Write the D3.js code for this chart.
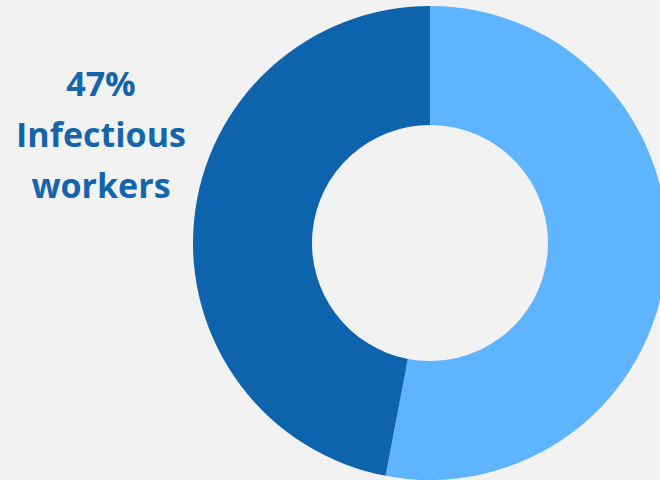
<!DOCTYPE html>
<html>
<head>
<meta charset="utf-8">
<script src="https://cdn.jsdelivr.net/npm/d3@7"></script>
<style>
  html, body { margin: 0; padding: 0; background: #f2f2f2; }
  svg { display: block; }
</style>
</head>
<body>
<svg id="chart" width="660" height="480"></svg>
<script>
// data
const categories = ['Other workers', 'Infectious workers'];
const shares = [53, 47];
const colors = ['#5fb4ff', '#0d64ad'];
const labelLines = ['47%', 'Infectious', 'workers'];

const svg = d3.select('#chart');
const cx = 430, cy = 243;
const outerR = 237, innerR = 118;

const pie = d3.pie().sort(null).value(d => d);
const arc = d3.arc().innerRadius(innerR).outerRadius(outerR);

svg.append('g')
  .attr('transform', `translate(${cx} ${cy})`)
  .selectAll('path')
  .data(pie(shares))
  .join('path')
    .attr('d', arc)
    .attr('fill', (d, i) => colors[i]);

// label on the left
svg.append('g')
  .selectAll('text')
  .data(labelLines)
  .join('text')
    .text(d => d)
    .attr('x', 101)
    .attr('y', (d, i) => 96 + i * 51)
    .attr('text-anchor', 'middle')
    .attr('font-family', '"Open Sans", Lato, sans-serif')
    .attr('font-weight', 'bold')
    .attr('font-size', 34)
    .attr('fill', '#1565ad');
</script>
</body>
</html>
